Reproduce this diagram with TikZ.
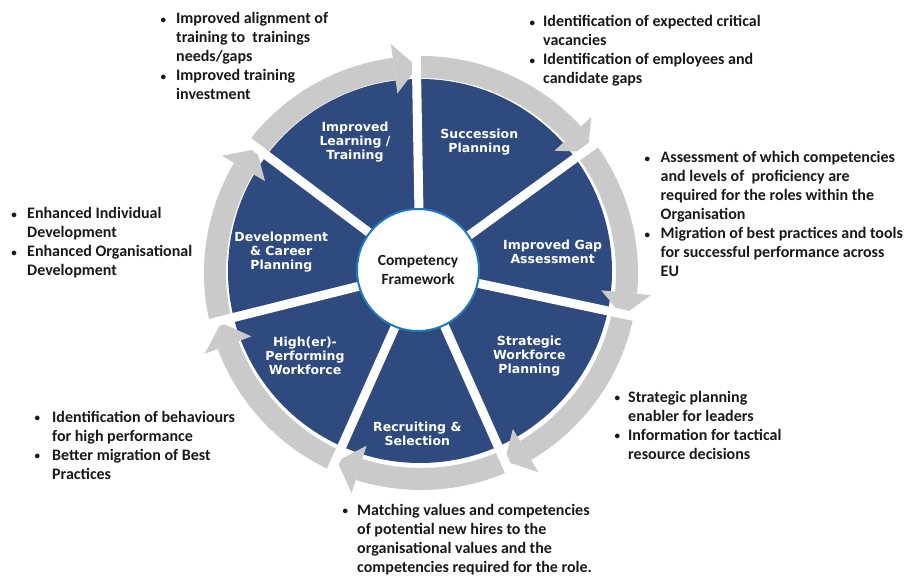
\documentclass[tikz,border=0pt]{standalone}
\usepackage{fontspec}
\setmainfont{Carlito}
\newfontfamily\lblfont{DejaVu Sans}
\usetikzlibrary{calc}
\definecolor{wheelblue}{RGB}{46,74,126}
\definecolor{ringgray}{RGB}{202,202,202}
\definecolor{rimblue}{RGB}{31,122,192}
\definecolor{txtcol}{RGB}{25,25,25}
\newcommand\bul[1]{\makebox[#1][l]{\raisebox{0.8pt}{\fontsize{11}{11}\selectfont\textbullet}}}
\newcommand\ind[1]{\hspace*{#1}}
\begin{document}
\begin{tikzpicture}[x=1pt,y=1pt,
  seclabel/.style={text=white, font=\lblfont\bfseries\fontsize{12.5}{14}\selectfont, align=center, inner sep=0},
  notes/.style={anchor=base west, inner sep=0, text=txtcol, font=\bfseries\fontsize{16}{19}\selectfont},
  ringseg/.style={ringgray, line width=22},
  gapline/.style={white, line width=9}
  ]
\useasboundingbox (0,0) rectangle (904,576);
\coordinate (cb) at (420,305);
\coordinate (cr) at (421,303);
\fill[wheelblue] (cb) circle[radius=192];
\foreach \s/\e in {143/91, 91/36, 36/-12, -12/-66, -66/-114, -114/-166, 194/143} {
  \draw[ringseg] ($(cr)+(\s:206)$) arc[start angle=\s, end angle=\e+6.5, radius=206];
  \fill[ringgray] ($(cr)+(\e+6.5:181)$) -- ($(cr)+(\e:206)$) -- ($(cr)+(\e+6.5:231)$) -- cycle;
}
\foreach \a in {91,36,-12,-66,-114,-166,143}
  \draw[gapline] (cb) -- ($(cb)+(\a:245)$);
\node[circle, fill=white, draw=rimblue, line width=2, minimum size=122, inner sep=0,
      align=center, text=txtcol, font=\bfseries\fontsize{15.5}{19}\selectfont] (core) at (418,306) {Competency\\Framework};

\node[seclabel] (learn) at (355,433.7) {Improved\\Learning /\\Training};
\node[seclabel] (succ) at (479.3,434) {Succession\\Planning};
\node[seclabel] (gap) at (552.7,324) {Improved Gap\\Assessment};
\node[seclabel] (swp) at (529.3,220.3) {Strategic\\Workforce\\Planning};
\node[seclabel] (recr) at (417.3,142.3) {Recruiting \&\\Selection};
\node[seclabel] (high) at (305,220.3) {High(er)-\\Performing\\Workforce};
\node[seclabel] (dev) at (281.3,324.2) {Development\\\& Career\\Planning};

\node[notes] (ntl) at (160.3,552) {\begin{tabular}[t]{@{}l@{}}
\bul{15.7pt}Improved alignment of\\
\ind{15.7pt}training to~ trainings\\
\ind{15.7pt}needs/gaps\\
\bul{15.7pt}Improved training\\
\ind{15.7pt}investment
\end{tabular}};
\node[notes] (ntr) at (529.3,549) {\begin{tabular}[t]{@{}l@{}}
\bul{13.7pt}Identification of expected critical\\
\ind{13.7pt}vacancies\\
\bul{13.7pt}Identification of employees and\\
\ind{13.7pt}candidate gaps
\end{tabular}};
\node[notes] (nr1) at (644.3,413) {\begin{tabular}[t]{@{}l@{}}
\bul{16.2pt}Assessment of which competencies\\
\ind{16.2pt}and levels of~ proficiency are\\
\ind{16.2pt}required for the roles within the\\
\ind{16.2pt}Organisation\\
\bul{16.2pt}Migration of best practices and tools\\
\ind{16.2pt}for successful performance across\\
\ind{16.2pt}EU
\end{tabular}};
\node[notes] (nl) at (11.3,357) {\begin{tabular}[t]{@{}l@{}}
\bul{15.7pt}Enhanced Individual\\
\ind{15.7pt}Development\\
\bul{15.7pt}Enhanced Organisational\\
\ind{15.7pt}Development
\end{tabular}};
\node[notes] (nr2) at (614.3,174) {\begin{tabular}[t]{@{}l@{}}
\bul{13.7pt}Strategic planning\\
\ind{13.7pt}enabler for leaders\\
\bul{13.7pt}Information for tactical\\
\ind{13.7pt}resource decisions
\end{tabular}};
\node[notes] (nlb) at (34.3,154) {\begin{tabular}[t]{@{}l@{}}
\bul{17.7pt}Identification of behaviours\\
\ind{17.7pt}for high performance\\
\bul{17.7pt}Better migration of Best\\
\ind{17.7pt}Practices
\end{tabular}};
\node[notes] (nb) at (342.3,61) {\begin{tabular}[t]{@{}l@{}}
\bul{14.7pt}Matching values and competencies\\
\ind{14.7pt}of potential new hires to the\\
\ind{14.7pt}organisational values and the\\
\ind{14.7pt}competencies required for the role.
\end{tabular}};
\end{tikzpicture}
\end{document}
